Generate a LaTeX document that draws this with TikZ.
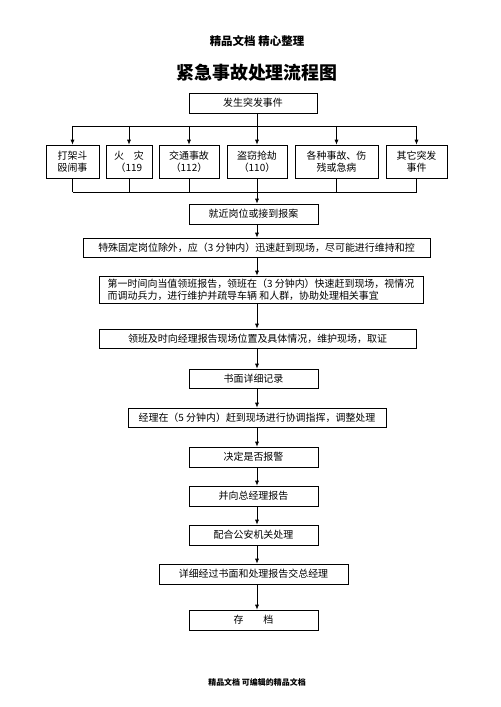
\documentclass[tikz,border=0pt]{standalone}
\usepackage{fontspec}
\setmainfont{Noto Sans CJK SC}
\usetikzlibrary{arrows.meta, positioning, calc}

\begin{document}
\begin{tikzpicture}[x=0.03cm, y=-0.03cm,
  flowbox/.style={draw, line width=0.6pt, inner sep=0pt, align=center, minimum height=0.6cm, font=\fontsize{8.5}{10.2}\selectfont},
  arr/.style={-{Latex[length=4.2pt, width=3.4pt]}, line width=0.6pt},
  link/.style={line width=0.6pt}]
  \useasboundingbox (0,0) rectangle (500,707);
  \coordinate (spine) at (257,0);
  \coordinate (bustop) at (0,126);
  \coordinate (busbot) at (0,192);

  % Header and title
  \node[font=\fontsize{9.8}{12}\selectfont\bfseries] (header) at (257,41) {精品文档 精心整理};
  \node[font=\fontsize{15.3}{18}\selectfont\bfseries] (title) at (257,73) {紧急事故处理流程图};

  % Start
  \node[flowbox, minimum width=3.84cm] (start) at (253,103) {发生突发事件};

  % Kinds of events
  \node[flowbox, minimum width=1.59cm, minimum height=0.99cm] (fight) at (72.5,161.5) {打架斗\\殴闹事};
  \node[flowbox, minimum width=1.38cm, minimum height=0.99cm] (fire) at (129,161.5) {火\hspace{1em}灾\\（119};
  \node[flowbox, minimum width=1.8cm, minimum height=0.99cm] (traffic) at (189,161.5) {交通事故\\（112）};
  \node[flowbox, minimum width=1.8cm, minimum height=0.99cm] (theft) at (257,161.5) {盗窃抢劫\\（110）};
  \node[flowbox, minimum width=2.49cm, minimum height=0.99cm] (injury) at (336.5,161.5) {各种事故、伤\\残或急病};
  \node[flowbox, minimum width=1.83cm, minimum height=0.99cm] (other) at (416.5,161.5) {其它突发\\事件};

  % Steps
  \node[flowbox, minimum width=3.87cm] (near) at (253.5,214) {就近岗位或接到报案};
  \node[flowbox, minimum width=10.41cm, minimum height=0.57cm] (special) at (256.5,247.5) {特殊固定岗位除外，应（3 分钟内）迅速赶到现场，尽可能进行维持和控};
  \node[flowbox, minimum width=9.72cm, minimum height=0.81cm, align=left] (first) at (261,289.5) {第一时间向当值领班报告，领班在（3 分钟内）快速赶到现场，视情况\\而调动兵力，进行维护并疏导车辆 和人群，协助处理相关事宜};
  \node[flowbox, minimum width=9.51cm, minimum height=0.57cm] (report) at (257.5,338.5) {领班及时向经理报告现场位置及具体情况，维护现场，取证};
  \node[flowbox, minimum width=3.87cm, minimum height=0.57cm] (record) at (253.5,378.5) {书面详细记录};
  \node[flowbox, minimum width=7.74cm, minimum height=0.57cm] (manager) at (257,417.5) {经理在（5 分钟内）赶到现场进行协调指挥，调整处理};
  \node[flowbox, minimum width=3.87cm] (decide) at (253.5,457) {决定是否报警};
  \node[flowbox, minimum width=3.87cm] (tellgm) at (253.5,496) {并向总经理报告};
  \node[flowbox, minimum width=3.87cm] (police) at (253.5,535) {配合公安机关处理};
  \node[flowbox, minimum width=5.67cm] (detail) at (253.5,574) {详细经过书面和处理报告交总经理};
  \node[flowbox, minimum width=3.87cm] (archive) at (253.5,620) {存\hspace{2em}档};

  % Footer
  \node[font=\fontsize{6.8}{8}\selectfont\bfseries] (footer) at (257,682) {精品文档 可编辑的精品文档};

  % Branching
  \draw[link] (fight.north |- bustop) -- (other.north |- bustop);
  \draw[arr] (start.south -| spine) -- (theft.north);
  \foreach \n in {fight, fire, traffic, injury, other}
    \draw[arr] (\n.north |- bustop) -- (\n.north);

  % Joining
  \draw[link] (fight.south |- busbot) -- (other.south |- busbot);
  \foreach \n in {fight, fire, traffic, injury, other}
    \draw[link] (\n.south) -- (\n.south |- busbot);
  \draw[arr] (theft.south) -- (near.north -| spine);

  % Main chain
  \draw[arr] (near.south -| spine) -- (special.north -| spine);
  \draw[arr] (special.south -| spine) -- (first.north -| spine);
  \draw[arr] (first.south -| spine) -- (report.north -| spine);
  \draw[arr] (report.south -| spine) -- (record.north -| spine);
  \draw[arr] (record.south -| spine) -- (manager.north -| spine);
  \draw[arr] (manager.south -| spine) -- (decide.north -| spine);
  \draw[arr] (decide.south -| spine) -- (tellgm.north -| spine);
  \draw[arr] (tellgm.south -| spine) -- (police.north -| spine);
  \draw[arr] (police.south -| spine) -- (detail.north -| spine);
  \draw[arr] (detail.south -| spine) -- (archive.north -| spine);
\end{tikzpicture}
\end{document}
